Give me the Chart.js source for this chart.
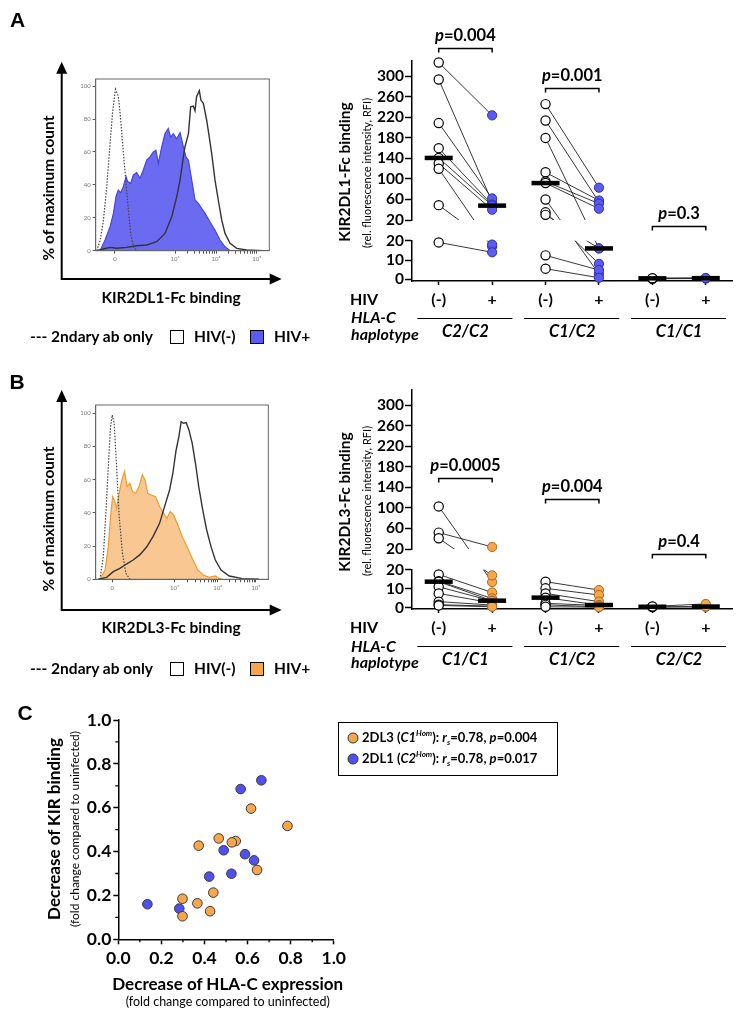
<!DOCTYPE html>
<html><head><meta charset="utf-8">
<script src="https://cdn.jsdelivr.net/npm/chart.js@4.4.1/dist/chart.umd.min.js"></script>
<style>
html,body{margin:0;padding:0;background:#fff;}
#page{position:relative;width:751px;height:1017px;overflow:hidden;font-family:Lato,'Open Sans',sans-serif;color:#000;}
canvas{position:absolute;}
.t{position:absolute;white-space:nowrap;transform:translate(-50%,-50%);line-height:1;}
.l{position:absolute;white-space:nowrap;transform:translate(0,-50%);line-height:1;}
.r{transform:translate(-50%,-50%) rotate(-90deg);}
.b{font-weight:700;}
.i{font-style:italic;}
.sq{position:absolute;width:12px;height:12px;border:1.3px solid #000;}
.dot{position:absolute;width:9px;height:9px;border-radius:50%;border:1px solid #333;transform:translate(-50%,-50%);}
</style></head><body><div id="page">
<canvas id="hA" width="290" height="320" style="left:0;top:0"></canvas>
<canvas id="dA" width="471" height="345" style="left:280px;top:0"></canvas>
<canvas id="hB" width="290" height="320" style="left:0;top:340px"></canvas>
<canvas id="dB" width="471" height="340" style="left:280px;top:330px"></canvas>
<canvas id="sc" width="350" height="280" style="left:0;top:700px"></canvas>
</div>
<script>
// ================= DATA =================
// Histograms (x in display units 0-100 of the biexponential axis, y = % of max)
const hist_tickLabels = ['0', '10³', '10⁴', '10⁵'];
const histA_tickPos = [11.1, 45.7, 69.3, 92.8];
const histB_tickPos = [9.6, 45.7, 70.7, 92.8];
const hist_yTicks = [0, 20, 40, 60, 80, 100];

const histA_ctrlX = [0.6, 2.5, 4.4, 6.3, 8.2, 9.8, 11.4, 13.0, 14.4, 15.9, 17.3, 18.8, 20.2, 21.9, 24.0];
const histA_ctrlY = [0, 6, 18, 38, 64, 85, 98, 94, 80, 60, 43, 25, 10, 2, 0];
const histA_negX = [0.6, 4.4, 8.2, 12.1, 17.8, 23.6, 29.4, 35.1, 39.9, 43.8, 46.7, 48.6, 50.5, 51.4, 53.4, 54.7, 56.2, 57.2, 58.1, 59.7, 60.6, 62.0, 63.9, 65.4, 66.8, 68.7, 70.6, 72.6, 74.5, 77.4, 81.2, 87.0, 96.6];
const histA_negY = [0, 1, 2, 1.5, 2, 3, 3.5, 5.5, 10.5, 20.6, 32.8, 43, 57, 63, 71, 87.4, 87.9, 85, 93.5, 97.2, 91.5, 89.5, 79.4, 69.2, 59.1, 43, 30.8, 18.6, 10.5, 4.5, 1.4, 0.4, 0];
const histA_posX = [2.5, 5.4, 8.3, 10.2, 11.7, 13.0, 14.4, 15.9, 17.5, 18.4, 20.1, 21.7, 23.6, 25.5, 27.4, 29.4, 31.3, 33.2, 34.7, 36.1, 38.0, 39.9, 41.8, 43.2, 44.7, 46.6, 48.6, 50.5, 52.0, 53.4, 55.3, 57.2, 59.1, 61.0, 63.0, 65.8, 68.7, 71.6, 74.5, 77.4];
const histA_posY = [0, 6.5, 14.6, 22.7, 32.8, 36.8, 35.2, 38.9, 45, 42, 40.9, 46, 47.4, 44, 49, 55, 57, 60, 61, 53, 63, 71, 74.3, 69, 71, 68, 71.7, 63, 57, 55, 43, 30.8, 28.7, 25.7, 22.7, 17.6, 12.6, 6.5, 2.4, 0];

const histB_ctrlX = [2.5, 4.4, 5.9, 7.3, 8.6, 9.6, 10.7, 12.1, 13.6, 15.5, 17.5, 19.8];
const histB_ctrlY = [0, 13.7, 39.8, 67.9, 92, 99, 94, 67.9, 37.8, 15.7, 3.6, 0];
const histB_negX = [1.5, 6.3, 10.2, 14.0, 17.8, 21.7, 25.5, 29.4, 33.2, 37.0, 39.9, 42.8, 44.7, 46.6, 48.2, 49.5, 50.9, 52.4, 54.0, 55.9, 57.8, 59.7, 62.0, 64.3, 66.8, 69.3, 72.6, 77.4, 85.0, 94.6];
const histB_negY = [0, 1.2, 4.6, 6.6, 9.2, 11.6, 14.7, 19.3, 25.7, 33.7, 43.8, 53.8, 63.9, 77.9, 86, 95, 94, 94.4, 90, 82, 69.9, 55.8, 41.8, 29.7, 19.7, 11.6, 5.6, 2, 0.4, 0];
const histB_posX = [2.5, 5.4, 7.3, 8.6, 9.8, 10.7, 12.1, 13.6, 15.1, 16.7, 18.2, 19.8, 21.3, 23.2, 25.1, 27.0, 28.6, 30.1, 32.2, 34.7, 37.0, 39.4, 41.3, 43.2, 45.1, 47.6, 50.1, 52.8, 55.9, 59.1, 62.4, 65.8, 69.3, 71.6, 73.5];
const histB_posY = [0, 5.6, 19.7, 37.8, 49.8, 47.8, 42.8, 51.8, 59.8, 64.9, 55.8, 57.8, 52.8, 51.8, 55.8, 62.9, 59.8, 51.8, 50.8, 49.8, 43.8, 39.8, 36.7, 40.8, 38.8, 32.7, 25.7, 19.7, 12.7, 5.6, 2.6, 1.2, 2, 0.4, 0];

// Dot plots (paired donors: neg[g][i] -> pos[g][i]), RFI
const hivLabels = ['(-)', '+', '(-)', '+', '(-)', '+'];
const dl_upperTicks = [20, 60, 100, 140, 180, 220, 260, 300];
const dl_lowerTicks = [0, 10, 20];
const dl_break = 20;

const dl1_groups = ['C2/C2', 'C1/C2', 'C1/C1'];
const dl1_neg = [[327, 294, 209, 160, 141, 130, 120, 49, 19.1], [246, 214, 180, 113, 95, 92, 60, 35, 30, 12.4, 5.5], [0.3, 0.5, 0.6]];
const dl1_pos = [[224, 55, 62, 50, 48, 40, 17, 18, 14], [83, 55, 16, 58, 52, 42, 2.8, 8, 16, 4.8, 0.8], [0.4, 0.6, 0.7]];
const dl1_pvals = ['0.004', '0.001', '0.3'];
const dl1_bracket = [355, 278, 8.9];

const dl3_groups = ['C1/C1', 'C1/C2', 'C2/C2'];
const dl3_neg = [[103, 52, 41, 17.5, 14, 13.7, 11, 7.5, 3.2, 1.6, 1.2], [13.7, 10.2, 7.5, 5.3, 2.3, 1.5, 0.5], [0.3, 0.5, 0.7]];
const dl3_pos = [[13.5, 24, 17, 8, 4.9, 3.7, 3.5, 2.5, 1.4, 0.8, 0.5], [9.3, 6.7, 3.2, 1.4, 1.2, 0.5, 0.3], [0.4, 0.6, 2.0]];
const dl3_pvals = ['0.0005', '0.004', '0.4'];
const dl3_bracket = [159, 117, 10.8];

// Scatter (panel C)
const sc_ticks = [0, 0.2, 0.4, 0.6, 0.8, 1.0];
const sc_minor = [0.1, 0.3, 0.5, 0.7, 0.9];
const sc_2dl3_x = [0.373, 0.466, 0.545, 0.527, 0.616, 0.785, 0.644, 0.441, 0.298, 0.367, 0.426, 0.298];
const sc_2dl3_y = [0.427, 0.460, 0.448, 0.442, 0.596, 0.517, 0.316, 0.213, 0.185, 0.164, 0.128, 0.105];
const sc_2dl1_x = [0.568, 0.664, 0.489, 0.588, 0.630, 0.422, 0.525, 0.135, 0.283];
const sc_2dl1_y = [0.685, 0.725, 0.406, 0.388, 0.360, 0.286, 0.299, 0.160, 0.140];

// ================= STYLE =================
const BLUE = '#5b5bf1', BLUE_EDGE = '#2e2ea8';
const ORANGE = '#f7a64b', ORANGE_EDGE = '#a8661c';
const FONT = 'Lato';

// ================= HELPERS =================
const pts = (xs, ys) => xs.map((x, i) => ({x, y: ys[i]}));
function median(a) { const s = [...a].sort((p, q) => p - q); const n = s.length; return n % 2 ? s[(n - 1) / 2] : (s[n / 2 - 1] + s[n / 2]) / 2; }

function arrowsPlugin(vx, vy0, vyTip, hy, hxTip) {
  return {id: 'arrows', afterDraw(chart) {
    const c = chart.ctx; c.save(); c.strokeStyle = '#000'; c.fillStyle = '#000'; c.lineWidth = 2;
    c.beginPath(); c.moveTo(vx, vy0 + 1); c.lineTo(vx, vyTip + 10); c.moveTo(vx - 1, hy); c.lineTo(hxTip - 10, hy); c.stroke();
    c.beginPath(); c.moveTo(vx, vyTip); c.lineTo(vx - 5.5, vyTip + 12); c.lineTo(vx + 5.5, vyTip + 12); c.closePath(); c.fill();
    c.beginPath(); c.moveTo(hxTip, hy); c.lineTo(hxTip - 12, hy - 5.5); c.lineTo(hxTip - 12, hy + 5.5); c.closePath(); c.fill();
    c.restore();
  }};
}
const boxPlugin = {id: 'box', afterDraw(chart) {
  const {ctx, chartArea: a} = chart; ctx.save(); ctx.strokeStyle = '#666'; ctx.lineWidth = 1;
  ctx.strokeRect(a.left, a.top, a.right - a.left, a.bottom - a.top); ctx.restore();
}};

function makeHist(id, tickPos, ctrl, neg, pos, fill, edge, yMax, pad, arrows) {
  const minor = [];
  for (let d = 1; d < tickPos.length - 1; d++) for (let k = 2; k <= 9; k++)
    minor.push(tickPos[d] + (tickPos[d + 1] - tickPos[d]) * Math.log10(k));
  const allTicks = tickPos.concat(minor);
  new Chart(document.getElementById(id), {
    type: 'line',
    data: {datasets: [
      {data: ctrl, borderColor: '#444', borderWidth: 1.2, borderDash: [1.5, 1.5], pointRadius: 0, fill: false},
      {data: neg, borderColor: '#333', borderWidth: 1.4, pointRadius: 0, fill: false},
      {data: pos, borderColor: edge, borderWidth: 1.2, backgroundColor: fill, pointRadius: 0, fill: 'origin'}
    ]},
    options: {
      responsive: false, animation: false, events: [],
      plugins: {legend: {display: false}, tooltip: {enabled: false}},
      layout: {padding: pad},
      scales: {
        x: {type: 'linear', min: 0, max: 100,
          afterBuildTicks: s => { s.ticks = allTicks.map(v => ({value: v})); },
          afterFit: s => { s.height = 19.3; },
          ticks: {autoSkip: false, maxRotation: 0, padding: 2, color: '#777', font: {family: FONT, size: 6},
            callback: v => { const k = tickPos.indexOf(v); return k >= 0 ? hist_tickLabels[k] : ''; }},
          grid: {drawOnChartArea: false, tickLength: 3, tickColor: '#555', tickWidth: 1},
          border: {color: '#666', width: 1}},
        y: {type: 'linear', min: 0, max: yMax,
          afterBuildTicks: s => { s.ticks = hist_yTicks.map(v => ({value: v})); },
          afterFit: s => { s.width = 25.7; },
          ticks: {autoSkip: false, padding: 2, color: '#777', font: {family: FONT, size: 6}},
          grid: {drawOnChartArea: false, tickLength: 3, tickColor: '#555', tickWidth: 1},
          border: {color: '#666', width: 1}}
      }
    },
    plugins: [boxPlugin, arrowsPlugin(...arrows)]
  });
}

function makeDot(id, groups, neg, pos, pvals, bracket, fill, edge, pad, ws, yLmin) {
  const sets = {negU: [], negL: [], posU: [], posL: [], medU: [], medL: []};
  groups.forEach((_, g) => {
    neg[g].forEach(v => (v > dl_break ? sets.negU : sets.negL).push({x: 2 * g, y: v}));
    pos[g].forEach(v => (v > dl_break ? sets.posU : sets.posL).push({x: 2 * g + 1, y: v}));
    const mn = median(neg[g]), mp = median(pos[g]);
    (mn > dl_break ? sets.medU : sets.medL).push({x: 2 * g, y: mn});
    (mp > dl_break ? sets.medU : sets.medL).push({x: 2 * g + 1, y: mp});
  });
  const med = (data, ax) => ({data, yAxisID: ax, pointStyle: 'line', pointRadius: 14, pointBorderWidth: 4.5, pointBorderColor: '#000', clip: false});
  const dot = (data, ax, f, e, bw) => ({data, yAxisID: ax, pointRadius: 4.6, pointBackgroundColor: f, pointBorderColor: e, pointBorderWidth: bw, clip: false});
  const tickFont = {family: FONT, size: 15.5, weight: 'bold'};
  const yCommon = {type: 'linear', position: 'left', stack: 'y', afterFit: s => { s.width = 132; },
    ticks: {autoSkip: false, padding: 1, color: '#000', font: tickFont},
    grid: {drawOnChartArea: false, tickLength: 7, tickColor: '#000', tickWidth: 1.5},
    border: {color: '#000', width: 1.5}};

  const pairLines = {id: 'pairLines', beforeDatasetsDraw(chart) {
    const {ctx, chartArea: a, scales: {x, yU, yL}} = chart;
    const py = v => (v > dl_break ? yU : yL).getPixelForValue(v);
    ctx.save(); ctx.beginPath();
    ctx.rect(a.left, yU.top - 2, a.right - a.left, yU.bottom - yU.top + 2);
    ctx.rect(a.left, yL.top, a.right - a.left, yL.bottom - yL.top + 6);
    ctx.clip();
    ctx.strokeStyle = '#222'; ctx.lineWidth = 0.9;
    neg.forEach((arr, g) => arr.forEach((v, i) => {
      ctx.beginPath(); ctx.moveTo(x.getPixelForValue(2 * g), py(v)); ctx.lineTo(x.getPixelForValue(2 * g + 1), py(pos[g][i])); ctx.stroke();
    }));
    ctx.restore();
  }};
  const annot = {id: 'annot', afterDraw(chart) {
    const {ctx, chartArea: a, scales: {x, yU}} = chart;
    ctx.save(); ctx.strokeStyle = '#000'; ctx.fillStyle = '#000'; ctx.textBaseline = 'alphabetic';
    groups.forEach((name, g) => {
      const x0 = x.getPixelForValue(2 * g), x1 = x.getPixelForValue(2 * g + 1);
      const by = Math.round(yU.getPixelForValue(bracket[g])) + 0.5;
      ctx.lineWidth = 1.5; ctx.beginPath(); ctx.moveTo(x0, by + 4); ctx.lineTo(x0, by); ctx.lineTo(x1, by); ctx.lineTo(x1, by + 4); ctx.stroke();
      ctx.font = `italic bold 16.5px ${FONT}`; const w1 = ctx.measureText('p').width;
      ctx.font = `bold 16.5px ${FONT}`; const w2 = ctx.measureText('=' + pvals[g]).width;
      const sx = (x0 + x1) / 2 - (w1 + w2) / 2; ctx.textAlign = 'left';
      ctx.font = `italic bold 16.5px ${FONT}`; ctx.fillText('p', sx, by - 7.5);
      ctx.font = `bold 16.5px ${FONT}`; ctx.fillText('=' + pvals[g], sx + w1, by - 7.5);
      // haplotype underline + label
      const uy = a.bottom + 37.5;
      ctx.lineWidth = 1; ctx.beginPath(); ctx.moveTo(x.getPixelForValue(2 * g - 0.4), uy); ctx.lineTo(x.getPixelForValue(2 * g + 1.38), uy); ctx.stroke();
      ctx.font = `italic bold 16.5px ${FONT}`; ctx.textAlign = 'center';
      ctx.fillText(name, x.getPixelForValue(2 * g + 0.5), a.bottom + 56);
    });
    ctx.restore();
  }};

  new Chart(document.getElementById(id), {
    type: 'scatter',
    data: {datasets: [
      med(sets.medU, 'yU'), med(sets.medL, 'yL'),
      dot(sets.posU, 'yU', fill, edge, 1), dot(sets.posL, 'yL', fill, edge, 1),
      dot(sets.negU, 'yU', '#fff', '#000', 1.2), dot(sets.negL, 'yL', '#fff', '#000', 1.2)
    ]},
    options: {
      responsive: false, animation: false, events: [],
      plugins: {legend: {display: false}, tooltip: {enabled: false}},
      layout: {padding: pad},
      scales: {
        x: {type: 'linear', min: -0.5, max: 5.5,
          afterBuildTicks: s => { s.ticks = hivLabels.map((_, i) => ({value: i})); },
          afterFit: s => { s.height = pad.xh; },
          ticks: {autoSkip: false, maxRotation: 0, padding: 5, color: '#000', font: {family: FONT, size: 16, weight: 'bold'},
            callback: (v, i) => hivLabels[i]},
          grid: {drawOnChartArea: false, tickLength: 4, tickColor: '#000', tickWidth: 1.5},
          border: {color: '#000', width: 1.5}},
        yU: Object.assign({}, yCommon, {stackWeight: ws[0], weight: 3, min: 20, max: 330,
          afterBuildTicks: s => { s.ticks = dl_upperTicks.map(v => ({value: v})); }}),
        yG: {type: 'linear', position: 'left', stack: 'y', stackWeight: ws[1], weight: 2, min: 0, max: 1,
          afterFit: s => { s.width = 132; }, ticks: {display: false}, grid: {display: false}, border: {display: false}},
        yL: Object.assign({}, yCommon, {stackWeight: ws[2], weight: 1, min: yLmin, max: 20,
          afterBuildTicks: s => { s.ticks = dl_lowerTicks.map(v => ({value: v})); }})
      }
    },
    plugins: [pairLines, annot]
  });
}

// ================= CHARTS =================
makeHist('hA', histA_tickPos, pts(histA_ctrlX, histA_ctrlY), pts(histA_negX, histA_negY), pts(histA_posX, histA_posY),
  'rgba(96,96,240,0.93)', '#4646d8', 104.3, {left: 70, right: 20.7, top: 79, bottom: 50}, [61.7, 279, 61.7, 279, 281.7]);
makeHist('hB', histB_tickPos, pts(histB_ctrlX, histB_ctrlY), pts(histB_negX, histB_negY), pts(histB_posX, histB_posY),
  'rgba(249,196,140,0.95)', '#f09a30', 105, {left: 70, right: 21.7, top: 65, bottom: 61.4}, [61.7, 270, 50, 270, 281.7]);

makeDot('dA', dl1_groups, dl1_neg, dl1_pos, dl1_pvals, dl1_bracket, BLUE, BLUE_EDGE,
  {left: 0, right: 9.3, top: 61, bottom: 0, xh: 64}, [159, 20.7, 40.3], -0.88);
makeDot('dB', dl3_groups, dl3_neg, dl3_pos, dl3_pvals, dl3_bracket, ORANGE, ORANGE_EDGE,
  {left: 0, right: 9.3, top: 60, bottom: 0, xh: 61}, [159, 20.7, 39.3], -0.68);

// Panel C scatter
const minorTicks = {id: 'minorTicks', afterDraw(chart) {
  const {ctx, chartArea: a, scales: {x, y}} = chart; ctx.save(); ctx.strokeStyle = '#000'; ctx.lineWidth = 1.3;
  sc_minor.forEach(v => {
    const px = x.getPixelForValue(v), py = y.getPixelForValue(v);
    ctx.beginPath(); ctx.moveTo(px, a.bottom); ctx.lineTo(px, a.bottom + 3); ctx.moveTo(a.left, py); ctx.lineTo(a.left - 3, py); ctx.stroke();
  });
  ctx.restore();
}};
const scFont = {family: FONT, size: 17.5, weight: 'bold'};
const scAxis = (fitFn, padTick) => ({type: 'linear', min: 0, max: 1,
  afterBuildTicks: s => { s.ticks = sc_ticks.map(v => ({value: v})); }, afterFit: fitFn,
  ticks: {autoSkip: false, maxRotation: 0, padding: padTick, color: '#000', font: scFont, callback: v => Number(v).toFixed(1)},
  grid: {drawOnChartArea: false, tickLength: 5, tickColor: '#000', tickWidth: 1.5},
  border: {color: '#000', width: 1.5}});
new Chart(document.getElementById('sc'), {
  type: 'scatter',
  data: {datasets: [
    {data: pts(sc_2dl3_x, sc_2dl3_y), pointRadius: 4.8, pointBackgroundColor: ORANGE, pointBorderColor: '#3a3a3a', pointBorderWidth: 1, clip: false},
    {data: pts(sc_2dl1_x, sc_2dl1_y), pointRadius: 4.8, pointBackgroundColor: '#5050ef', pointBorderColor: '#3a3a3a', pointBorderWidth: 1, clip: false}
  ]},
  options: {
    responsive: false, animation: false, events: [],
    plugins: {legend: {display: false}, tooltip: {enabled: false}},
    layout: {padding: {left: 68.3, right: 12.7, top: 20, bottom: 10.7}},
    scales: {
      x: scAxis(s => { s.height = 30; }, 4),
      y: scAxis(s => { s.width = 50; }, 2)
    }
  },
  plugins: [minorTicks]
});

// ================= TEXT ANNOTATIONS =================
const page = document.getElementById('page');
function txt(html, x, y, cls, style) {
  const d = document.createElement('div'); d.className = cls; d.innerHTML = html;
  d.style.left = x + 'px'; d.style.top = y + 'px'; if (style) d.style.cssText += style; page.appendChild(d); return d;
}
const L = "font-family:'Liberation Sans',Arial,sans-serif;font-weight:700;font-size:21px;";
txt('A', 17.5, 19, 't', L); txt('B', 17, 381, 't', L); txt('C', 25, 712, 't', L);

// histogram titles
txt('% of maximum count', 49, 188, 't r b', 'font-size:15.5px;');
txt('% of maximum count', 49, 519, 't r b', 'font-size:15.5px;');
txt('KIR2DL1-Fc binding', 171, 298, 't b', 'font-size:15.5px;');
txt('KIR2DL3-Fc binding', 171, 628, 't b', 'font-size:15.5px;');
// histogram legends
function histLegend(y, col) {
  txt('--- 2ndary ab only', 30, y, 'l b', 'font-size:15.5px;');
  const s1 = document.createElement('div'); s1.className = 'sq'; s1.style.cssText += `left:170px;top:${y - 7}px;background:#fff;`; page.appendChild(s1);
  txt('HIV(-)', 194, y, 'l b', 'font-size:15.5px;');
  const s2 = document.createElement('div'); s2.className = 'sq'; s2.style.cssText += `left:249.5px;top:${y - 7}px;background:${col};`; page.appendChild(s2);
  txt('HIV+', 274, y, 'l b', 'font-size:15.5px;');
}
histLegend(336.5, BLUE); histLegend(668.5, ORANGE);

// dot plot titles and row labels
txt('KIR2DL1-Fc binding', 345, 172, 't r b', 'font-size:15.5px;');
txt('(rel. fluorescence intensity, RFI)', 366, 172.5, 't r', 'font-size:11px;');
txt('KIR2DL3-Fc binding', 345, 501.5, 't r b', 'font-size:15.5px;');
txt('(rel. fluorescence intensity, RFI)', 366, 501, 't r', 'font-size:11px;');
[[299, 316.7, 334], [627, 646, 662]].forEach(([a, b, c]) => {
  txt('HIV', 350, a, 'l b', 'font-size:16px;');
  txt('HLA-C', 351, b, 'l b i', 'font-size:16px;');
  txt('haplotype', 351, c, 'l b i', 'font-size:16px;');
});

// panel C titles
txt('Decrease of KIR binding', 53, 829, 't r b', 'font-size:17px;');
txt('(fold change compared to uninfected)', 75, 829, 't r', 'font-size:12px;');
txt('Decrease of HLA-C expression', 227.7, 983, 't b', 'font-size:17px;');
txt('(fold change compared to uninfected)', 227.7, 1001.7, 't', 'font-size:12.5px;');
// panel C legend
const lg = document.createElement('div');
lg.style.cssText = 'position:absolute;left:337.5px;top:721.5px;width:220px;height:54px;border:1.3px solid #000;box-sizing:border-box;';
page.appendChild(lg);
[[737.7, ORANGE, '2DL3 (<i>C1<sup style="font-size:8px">Hom</sup></i>): <i>r<sub style="font-size:8px">s</sub></i>=0.78, <i>p</i>=0.004'],
 [759, '#5050ef', '2DL1 (<i>C2<sup style="font-size:8px">Hom</sup></i>): <i>r<sub style="font-size:8px">s</sub></i>=0.78, <i>p</i>=0.017']].forEach(([y, c, h]) => {
  const d = document.createElement('div'); d.className = 'dot'; d.style.cssText += `left:352.7px;top:${y}px;background:${c};`; page.appendChild(d);
  txt(h, 362, y, 'l b', 'font-size:13px;line-height:1;');
});
</script></body></html>
